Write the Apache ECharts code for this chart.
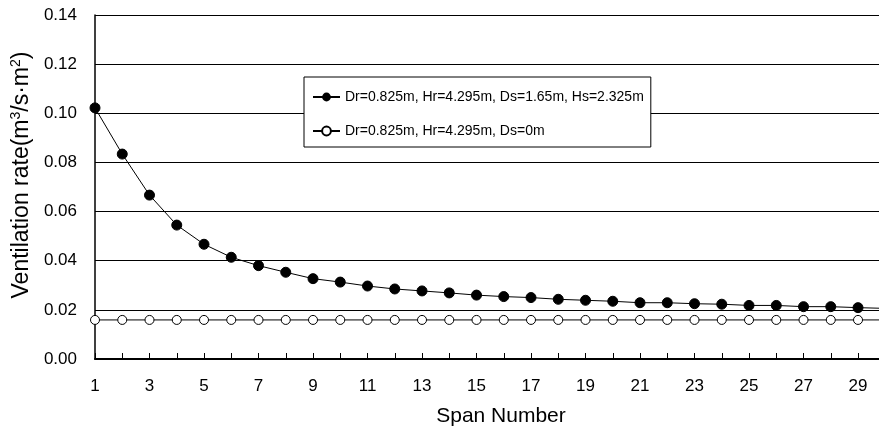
<!DOCTYPE html>
<html>
<head>
<meta charset="utf-8">
<script src="https://cdn.jsdelivr.net/npm/echarts@6/dist/echarts.min.js"></script>
<style>
  html, body { margin: 0; padding: 0; background: #fff; }
  #chart { width: 879px; height: 432px; }
</style>
</head>
<body>
<div id="chart"></div>
<script>
// span numbers 1..30 (30th lies just past the right edge)
var spans = [1, 2, 3, 4, 5, 6, 7, 8, 9, 10, 11, 12, 13, 14, 15,
  16, 17, 18, 19, 20, 21, 22, 23, 24, 25, 26, 27, 28, 29, 30];
var withStack = [0.1022, 0.0834, 0.0667, 0.0545, 0.0467, 0.0414, 0.0380, 0.0353, 0.0327, 0.0313,
  0.0297, 0.0285, 0.0277, 0.0269, 0.0260, 0.0254, 0.0250, 0.0243, 0.0239, 0.0235,
  0.0229, 0.0229, 0.0225, 0.0223, 0.0218, 0.0218, 0.0213, 0.0213, 0.0209, 0.0206];
var noStack = [0.0159, 0.0159, 0.0159, 0.0159, 0.0159, 0.0159, 0.0159, 0.0159, 0.0159, 0.0159,
  0.0159, 0.0159, 0.0159, 0.0159, 0.0159, 0.0159, 0.0159, 0.0159, 0.0159, 0.0159,
  0.0159, 0.0159, 0.0159, 0.0159, 0.0159, 0.0159, 0.0159, 0.0159, 0.0159, 0.0159];
var seriesNames = ['Dr=0.825m, Hr=4.295m, Ds=1.65m, Hs=2.325m', 'Dr=0.825m, Hr=4.295m, Ds=0m'];

function pairs(vals) {
  return spans.map(function (s, i) { return [s, vals[i]]; });
}

var font = 'Liberation Sans, Arial, sans-serif';
var chart = echarts.init(document.getElementById('chart'));

var option = {
  animation: false,
  backgroundColor: '#fff',
  textStyle: { fontFamily: font },
  grid: { left: 95, top: 15, right: 0, bottom: 73 },
  legend: {
    orient: 'vertical',
    left: 304,
    top: 77,
    padding: [13, 7, 9, 8],
    itemGap: 20,
    itemWidth: 27,
    itemHeight: 11,
    backgroundColor: '#fff',
    borderColor: '#000',
    borderWidth: 1,
    textStyle: { fontFamily: font, fontSize: 14, color: '#000' },
    data: seriesNames
  },
  xAxis: {
    type: 'value',
    min: 1,
    max: 29.77,
    interval: 1,
    name: 'Span Number',
    nameLocation: 'middle',
    nameGap: 47,
    nameTextStyle: { fontFamily: font, fontSize: 21, color: '#000', padding: [0, 0, 0, 28] },
    axisLine: { lineStyle: { color: '#000', width: 2 } },
    axisTick: { inside: true, length: 6, lineStyle: { color: '#000' } },
    axisLabel: {
      margin: 19,
      fontFamily: font,
      fontSize: 17,
      color: '#000',
      showMaxLabel: false,
      formatter: function (v) { return (v % 2 === 1) ? String(v) : ''; }
    },
    splitLine: { show: false }
  },
  yAxis: {
    type: 'value',
    min: 0,
    max: 0.14,
    interval: 0.02,
    name: 'Ventilation rate(m{sup|3}/s\u00b7m{sup|2})',
    nameLocation: 'middle',
    nameGap: 60,
    nameTextStyle: {
      fontFamily: font,
      fontSize: 23,
      color: '#000',
      padding: [0, 0, 0, 24],
      rich: {
        sup: { fontFamily: font, fontSize: 14, color: '#000', verticalAlign: 'top', padding: [0, 0, 10, 0] }
      }
    },
    axisLine: { show: true, lineStyle: { color: '#000', width: 1.5 } },
    axisTick: { show: false },
    axisLabel: {
      margin: 18,
      fontFamily: font,
      fontSize: 17,
      color: '#000',
      formatter: function (v) { return v.toFixed(2); }
    },
    splitLine: { show: true, lineStyle: { color: '#000', width: 1 } }
  },
  series: [
    {
      name: seriesNames[0],
      type: 'line',
      data: pairs(withStack),
      symbol: 'circle',
      symbolSize: 10,
      showAllSymbol: true,
      itemStyle: { color: '#000', borderColor: '#000' },
      lineStyle: { color: '#000', width: 1 }
    },
    {
      name: seriesNames[1],
      type: 'line',
      data: pairs(noStack),
      symbol: 'circle',
      symbolSize: 9,
      showAllSymbol: true,
      itemStyle: { color: '#fff', borderColor: '#000', borderWidth: 1 },
      lineStyle: { color: '#000', width: 1 }
    }
  ]
};

chart.setOption(option);
</script>
</body>
</html>
